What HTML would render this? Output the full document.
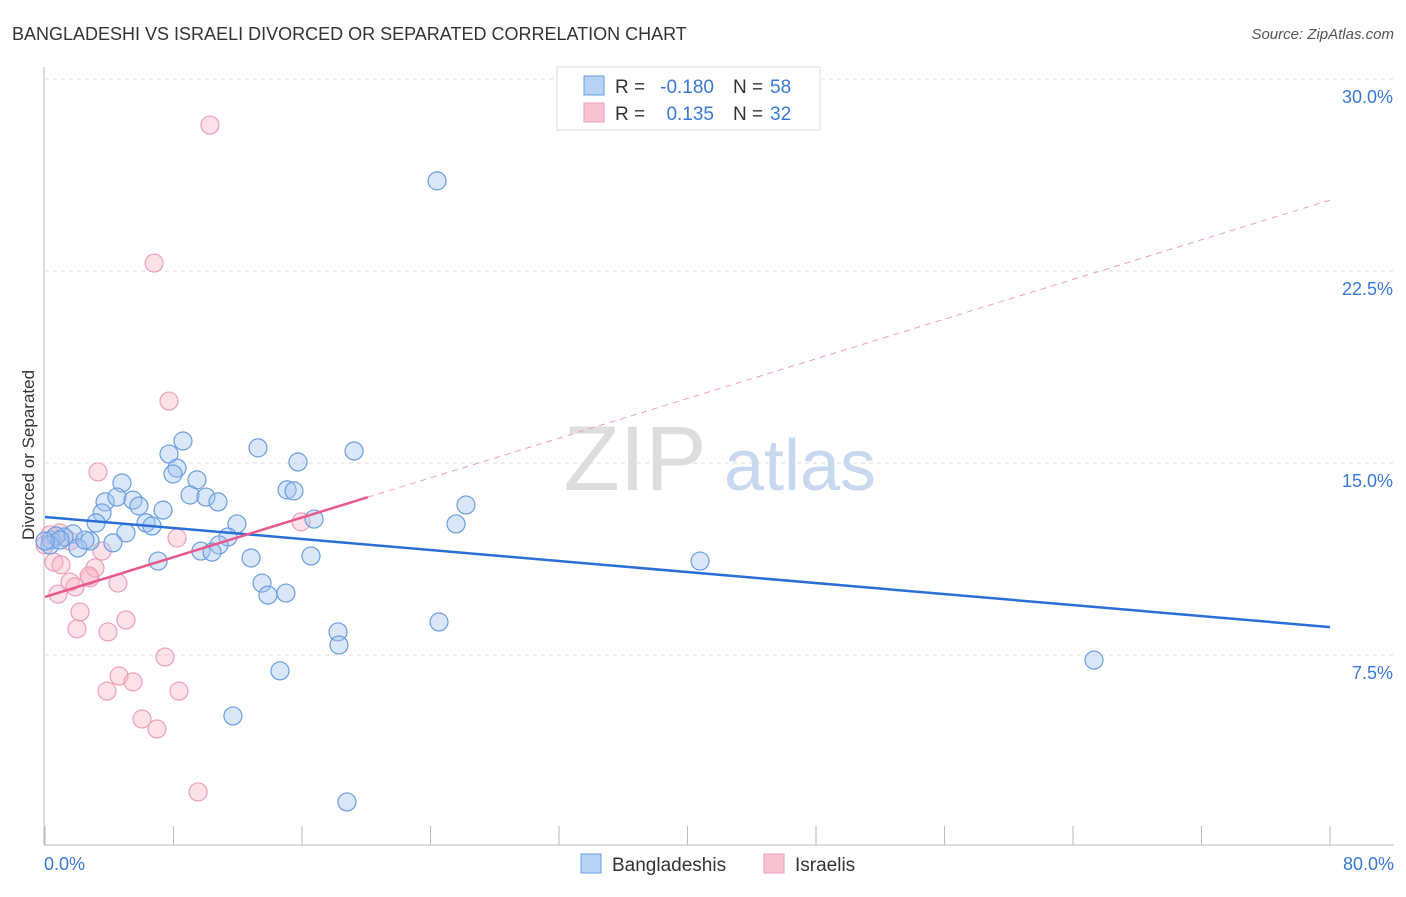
<!DOCTYPE html>
<html><head><meta charset="utf-8"><style>
body{margin:0;background:#fff;font-family:"Liberation Sans",sans-serif;}
svg text{font-family:"Liberation Sans",sans-serif;}
</style></head><body>
<svg id="chart" width="1406" height="892" viewBox="0 0 1406 892">
<text x="12" y="40" font-size="18" fill="#333">BANGLADESHI VS ISRAELI DIVORCED OR SEPARATED CORRELATION CHART</text>
<text x="1394" y="39" font-size="15" fill="#555" font-style="italic" text-anchor="end">Source: ZipAtlas.com</text>
<text transform="translate(34,455) rotate(-90)" font-size="17" fill="#333" text-anchor="middle">Divorced or Separated</text>
<g id="grid"></g>
<g id="watermark">
<text x="635" y="490" font-size="92" fill="#ddd" font-family="Liberation Serif" text-anchor="middle">ZIP</text>
<text x="800" y="490" font-size="72" fill="#c8d8ee" text-anchor="middle">atlas</text>
</g>
<g id="axes"></g>
<g id="points"></g>
<g id="trends"></g>
<g>
<rect x="557" y="67" width="263" height="63" fill="#fff" stroke="#ddd"/>
<rect x="584" y="76" width="20" height="19" fill="#b8d2f4" stroke="#6a9ee0"/>
<rect x="584" y="103" width="20" height="19" fill="#f8c4d4" stroke="#eba0b5"/>
<text x="615" y="93" font-size="19" fill="#333">R =</text>
<text x="714" y="93" font-size="19" fill="#3a78d8" text-anchor="end">-0.180</text>
<text x="733" y="93" font-size="19" fill="#333">N =</text>
<text x="770" y="93" font-size="19" fill="#3a78d8">58</text>
<text x="615" y="120" font-size="19" fill="#333">R =</text>
<text x="714" y="120" font-size="19" fill="#3a78d8" text-anchor="end">0.135</text>
<text x="733" y="120" font-size="19" fill="#333">N =</text>
<text x="770" y="120" font-size="19" fill="#3a78d8">32</text>
</g>
<g>
<rect x="581" y="854" width="20" height="19" fill="#b8d2f4" stroke="#6a9ee0"/>
<text x="612" y="871" font-size="19" fill="#333">Bangladeshis</text>
<rect x="764" y="854" width="20" height="19" fill="#f8c4d4" stroke="#eba0b5"/>
<text x="795" y="871" font-size="19" fill="#333">Israelis</text>
</g>
</svg>
<script>
const yTicks=[7.5,15,22.5,30];
const yTickLabels=["7.5%","15.0%","22.5%","30.0%"];
const xTickLabels=["0.0%","80.0%"];
const blueX=[24.41,8.59,13.26,19.24,15.75,7.72,8.22,7.97,9.46,4.79,15.07,15.50,3.74,4.48,5.48,5.85,9.03,10.02,10.77,7.35,3.55,3.18,6.29,6.66,11.95,16.75,26.21,25.59,5.04,1.74,1.18,0.37,0.68,2.80,4.23,2.05,11.39,10.83,9.71,10.40,16.56,12.83,7.04,40.78,13.51,13.88,15.00,18.24,18.30,24.53,65.31,14.63,11.70,18.80,0.31,2.49,0.93,0.0];
const blueY=[26.02,15.86,15.59,15.47,15.04,15.35,14.80,14.57,14.34,14.22,13.95,13.91,13.48,13.67,13.55,13.32,13.75,13.67,13.48,13.16,13.05,12.66,12.66,12.54,12.62,12.81,13.36,12.62,12.27,12.23,12.11,11.99,12.15,11.95,11.88,11.68,12.11,11.80,11.56,11.52,11.37,11.29,11.17,11.17,10.31,9.84,9.92,8.40,7.89,8.79,7.30,6.88,5.12,1.76,11.80,11.99,11.99,11.95];
const pinkX=[10.27,6.79,7.72,3.30,15.94,8.22,0.93,0.31,1.56,3.55,0.56,1.00,1.56,1.87,2.80,3.11,4.54,0.81,2.74,2.18,5.04,1.99,3.92,7.47,4.61,3.86,5.48,8.34,6.04,6.97,9.53,0];
const pinkY=[28.20,22.81,17.42,14.65,12.70,12.07,12.27,12.19,11.95,11.56,11.13,11.02,10.35,10.16,10.51,10.90,10.31,9.88,10.59,9.18,8.87,8.52,8.40,7.42,6.68,6.09,6.45,6.09,5.00,4.61,2.15,11.80];
const blueTrend=[12.89,8.59];
const pinkTrend=[9.77,25.27];
const pinkSolidEnd=20.1;

const NS="http://www.w3.org/2000/svg";
const X0=45,X1=1330,Y0=847,YPX=25.6;
const sx=v=>X0+v*(X1-X0)/80;
const sy=v=>Y0-v*YPX;
function mk(tag,attrs,parent){const e=document.createElementNS(NS,tag);for(const k in attrs)e.setAttribute(k,attrs[k]);parent.appendChild(e);return e;}
const grid=document.getElementById('grid'),axes=document.getElementById('axes');
yTicks.forEach((t,i)=>{
 const l=mk('line',{x1:X0,x2:1394,y1:sy(t),y2:sy(t),stroke:'#ddd','stroke-dasharray':'4,4'},grid);
 
 
 const tx=mk('text',{x:1393,y:sy(t)+24,'font-size':18,fill:'#3a78d8','text-anchor':'end'},grid);
 tx.textContent=yTickLabels[i];
 
 
});
const la=mk('line',{x1:44,x2:44,y1:67,y2:845,stroke:'#bbb'},axes);


const lb=mk('line',{x1:44,x2:1394,y1:845,y2:845,stroke:'#bbb'},axes);


for(let i=0;i<=10;i++){
 const t=mk('line',{x1:sx(i*8),x2:sx(i*8),y1:826,y2:845,stroke:'#bbb'},axes);
 
 
}
[[0,'start'],[80,'end']].forEach((p,i)=>{
 const t=mk('text',{x:i?1394:44,y:870,'font-size':18,fill:'#3a78d8','text-anchor':p[1]},axes);
 t.textContent=xTickLabels[i];
 
 
});
const pts=document.getElementById('points');
pinkX.forEach((x,i)=>{
 const c=mk('circle',{cx:sx(x),cy:sy(pinkY[i]),r:9,fill:'rgba(248,180,200,0.4)',stroke:'#eba0b5','stroke-width':1.2},pts);
 
 
});
blueX.forEach((x,i)=>{
 const c=mk('circle',{cx:sx(x),cy:sy(blueY[i]),r:9,fill:'rgba(160,196,240,0.4)',stroke:'#6a9ee0','stroke-width':1.2},pts);
 
 
});
const tr=document.getElementById('trends');
const b=mk('line',{x1:sx(0),y1:sy(blueTrend[0]),x2:sx(80),y2:sy(blueTrend[1]),stroke:'#2a6fd6','stroke-width':2.5},tr);


const pAt=x=>pinkTrend[0]+(pinkTrend[1]-pinkTrend[0])*x/80;
const pd=mk('line',{x1:sx(pinkSolidEnd),y1:sy(pAt(pinkSolidEnd)),x2:sx(80),y2:sy(pinkTrend[1]),stroke:'#eba0b5','stroke-width':1,'stroke-dasharray':'6,5'},tr);


const ps=mk('line',{x1:sx(0),y1:sy(pinkTrend[0]),x2:sx(pinkSolidEnd),y2:sy(pAt(pinkSolidEnd)),stroke:'#e8588a','stroke-width':2.5},tr);


</script>
</body></html>
